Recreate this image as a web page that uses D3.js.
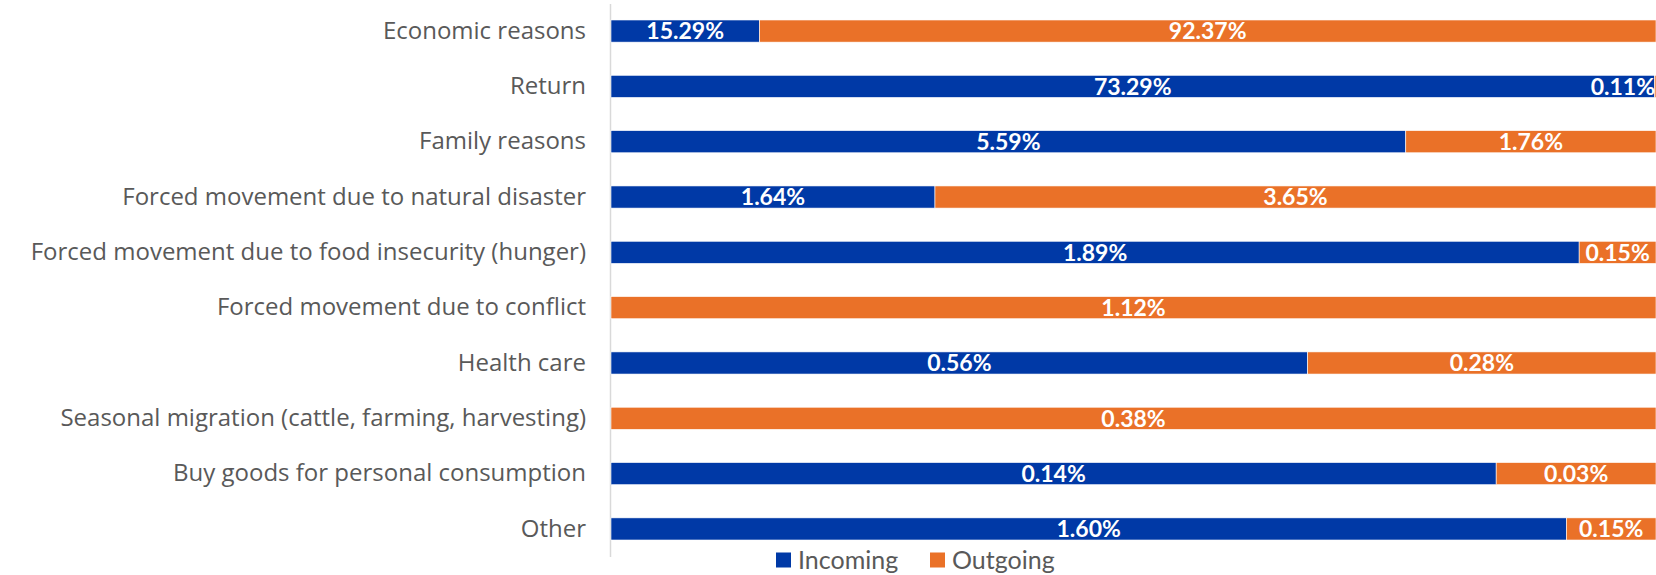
<!DOCTYPE html>
<html>
<head>
<meta charset="utf-8">
<script src="https://cdn.jsdelivr.net/npm/d3@7"></script>
<style>
body { margin: 0; background: #fff; }
svg { display: block; font-family: Lato, "Open Sans", sans-serif; }
</style>
</head>
<body>
<svg width="1656" height="575"></svg>
<script>
var categories = [
    "Economic reasons",
    "Return",
    "Family reasons",
    "Forced movement due to natural disaster",
    "Forced movement due to food insecurity (hunger)",
    "Forced movement due to conflict",
    "Health care",
    "Seasonal migration (cattle, farming, harvesting)",
    "Buy goods for personal consumption",
    "Other"
];
var incoming = [15.29, 73.29, 5.59, 1.64, 1.89, 0, 0.56, 0, 0.144, 1.60];
var outgoing = [92.37, 0.11, 1.76, 3.65, 0.15, 1.12, 0.28, 0.38, 0.026, 0.15];
var seriesNames = ["Incoming", "Outgoing"];
var colors = ["#0039a6", "#ea7128"];

var svg = d3.select("svg");
var width = +svg.attr("width");

var rows = categories.map(function (c, i) {
    return { cat: c, Incoming: incoming[i], Outgoing: outgoing[i] };
});

// 100% stack
var stack = d3.stack().keys(seriesNames).offset(d3.stackOffsetExpand);
var layers = stack(rows);

var x = d3.scaleLinear().domain([0, 1]).range([611, 1656]);
var y = d3.scaleBand()
    .domain(categories)
    .range([3.4, 556.6])
    .paddingInner(0.6)
    .paddingOuter(0.3);

// axis line + category labels
var yAxis = svg.append("g")
    .attr("transform", "translate(610,0)")
    .call(d3.axisLeft(y).tickSize(0).tickPadding(24));
yAxis.select(".domain").attr("stroke", "#d9d9d9").attr("stroke-width", 1.5);
yAxis.selectAll("text")
    .attr("fill", "#595959")
    .style("font-size", "24px")
    .style("font-family", "'Open Sans', Lato, sans-serif");

var layer = svg.append("g")
    .selectAll("g")
    .data(layers)
    .enter().append("g")
    .attr("fill", function (d, i) { return colors[i]; });

layer.selectAll("rect")
    .data(function (d) { return d; })
    .enter().append("rect")
    .filter(function (d) { return d[1] - d[0] > 0; })
    .attr("x", function (d) { return x(d[0]); })
    .attr("y", function (d) { return y(d.data.cat); })
    .attr("width", function (d) { return x(d[1]) - x(d[0]); })
    .attr("height", y.bandwidth())
    .attr("stroke", "#ffffff")
    .attr("stroke-width", 0.6);

// data labels
var labels = svg.append("g")
    .attr("fill", "#fff")
    .style("font-size", "23px")
    .style("font-weight", "700")
    .attr("text-anchor", "middle");

layers.forEach(function (l) {
    l.forEach(function (d) {
        var v = d.data[l.key];
        if (!v) return;
        var t = labels.append("text")
            .attr("y", y(d.data.cat) + y.bandwidth() / 2)
            .attr("dy", "0.36em")
            .text(v.toFixed(2) + "%");
        var w = t.node().getComputedTextLength();
        var cx = (x(d[0]) + x(d[1])) / 2;
        if (cx + w / 2 > width - 1) cx = width - 1 - w / 2;
        t.attr("x", cx);
    });
});

// legend
var legend = svg.append("g")
    .attr("transform", "translate(776,560)");
var item = legend.selectAll("g")
    .data(seriesNames)
    .enter().append("g")
    .attr("transform", function (d, i) { return "translate(" + (i * 154) + ",0)"; });
item.append("rect")
    .attr("x", 0)
    .attr("y", -7.5)
    .attr("width", 15)
    .attr("height", 15)
    .attr("fill", function (d, i) { return colors[i]; });
item.append("text")
    .attr("x", 22)
    .attr("dy", "0.36em")
    .attr("fill", "#595959")
    .style("font-size", "25px")
    .text(function (d) { return d; });
</script>
</body>
</html>
